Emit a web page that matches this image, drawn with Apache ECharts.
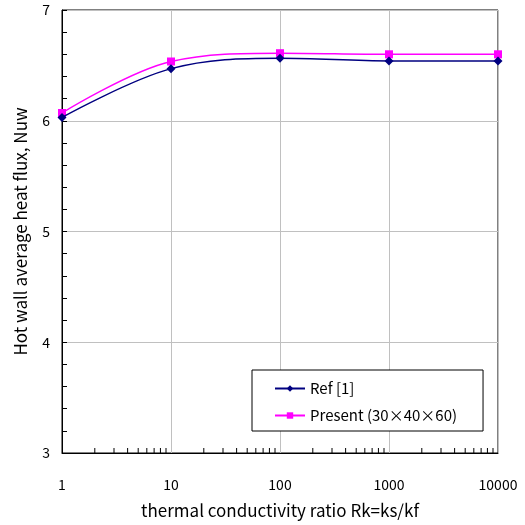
<!DOCTYPE html>
<html>
<head>
<meta charset="utf-8">
<script src="https://cdn.jsdelivr.net/npm/echarts@6/dist/echarts.min.js"></script>
<style>
  html, body { margin: 0; padding: 0; background: #fff; }
  #chart { width: 525px; height: 525px; }
</style>
</head>
<body>
<div id="chart"></div>
<script>
var ratios = [1, 10, 100, 1000, 10000];
var refValues = [6.03, 6.47, 6.565, 6.54, 6.54];
var presentValues = [6.07, 6.535, 6.61, 6.60, 6.60];
var xLabels = ["1", "10", "100", "1000", "10000"];
var seriesNames = ["Ref [1]", "Present (30×40×60)"];

// log minor ticks along the bottom (2..9 of each decade)
var minorX = [];
for (var d = 1; d < 10000; d *= 10) {
  for (var k = 2; k <= 9; k++) minorX.push([k * d, 3]);
}

var font = "'Noto Sans CJK JP', sans-serif";
var chart = echarts.init(document.getElementById("chart"));

chart.setOption({
  animation: false,
  backgroundColor: "#fff",
  textStyle: { fontFamily: font },
  grid: {
    left: 62, right: 27, top: 10, bottom: 72,
    show: true, borderColor: "#000", borderWidth: 1
  },
  legend: {
    data: seriesNames,
    orient: "vertical",
    left: 252, top: 370,
    padding: [11, 26, 8, 22],
    itemGap: 12,
    itemWidth: 30, itemHeight: 8,
    borderColor: "#000", borderWidth: 1,
    backgroundColor: "#fff",
    textStyle: { fontSize: 15, color: "#000", fontFamily: font }
  },
  xAxis: {
    type: "log",
    logBase: 10,
    min: 1, max: 10000,
    name: "thermal conductivity ratio Rk=ks/kf",
    nameLocation: "middle",
    nameGap: 49,
    nameTextStyle: { fontSize: 17, color: "#000" },
    axisLine: { lineStyle: { color: "#000" } },
    axisTick: { show: false },
    axisLabel: {
      fontSize: 14, color: "#000", margin: 25,
      formatter: function (v) { return xLabels[Math.round(Math.log10(v))]; }
    },
    splitLine: { show: true, lineStyle: { color: "#c0c0c0" } }
  },
  yAxis: {
    type: "value",
    min: 3, max: 7, interval: 1,
    name: "Hot wall average heat flux, Nuw",
    nameLocation: "middle",
    nameGap: 33,
    nameTextStyle: { fontSize: 17, color: "#000" },
    axisLine: { lineStyle: { color: "#000" } },
    axisTick: { show: true, inside: true, length: 5, lineStyle: { color: "#000" } },
    minorTick: { show: true, splitNumber: 5, length: 5, lineStyle: { color: "#000" } },
    axisLabel: { fontSize: 14, color: "#000", margin: 12 },
    splitLine: { show: true, lineStyle: { color: "#c0c0c0" } }
  },
  series: [
    {
      name: seriesNames[0],
      type: "line",
      data: ratios.map(function (x, i) { return [x, refValues[i]]; }),
      smooth: 0.35,
      symbol: "diamond",
      symbolSize: 9,
      lineStyle: { color: "#000080", width: 1.4 },
      itemStyle: { color: "#000080" },
      z: 3
    },
    {
      name: seriesNames[1],
      type: "line",
      data: ratios.map(function (x, i) { return [x, presentValues[i]]; }),
      smooth: 0.35,
      symbol: "rect",
      symbolSize: 8,
      lineStyle: { color: "#ff00ff", width: 1.4 },
      itemStyle: { color: "#ff00ff" },
      z: 2
    },
    {
      type: "custom",
      silent: true,
      clip: false,
      data: minorX,
      renderItem: function (params, api) {
        var p = api.coord([api.value(0), api.value(1)]);
        return {
          type: "line",
          shape: { x1: p[0], y1: p[1], x2: p[0], y2: p[1] - 5 },
          style: { stroke: "#000", lineWidth: 1 }
        };
      }
    }
  ]
});
</script>
</body>
</html>
